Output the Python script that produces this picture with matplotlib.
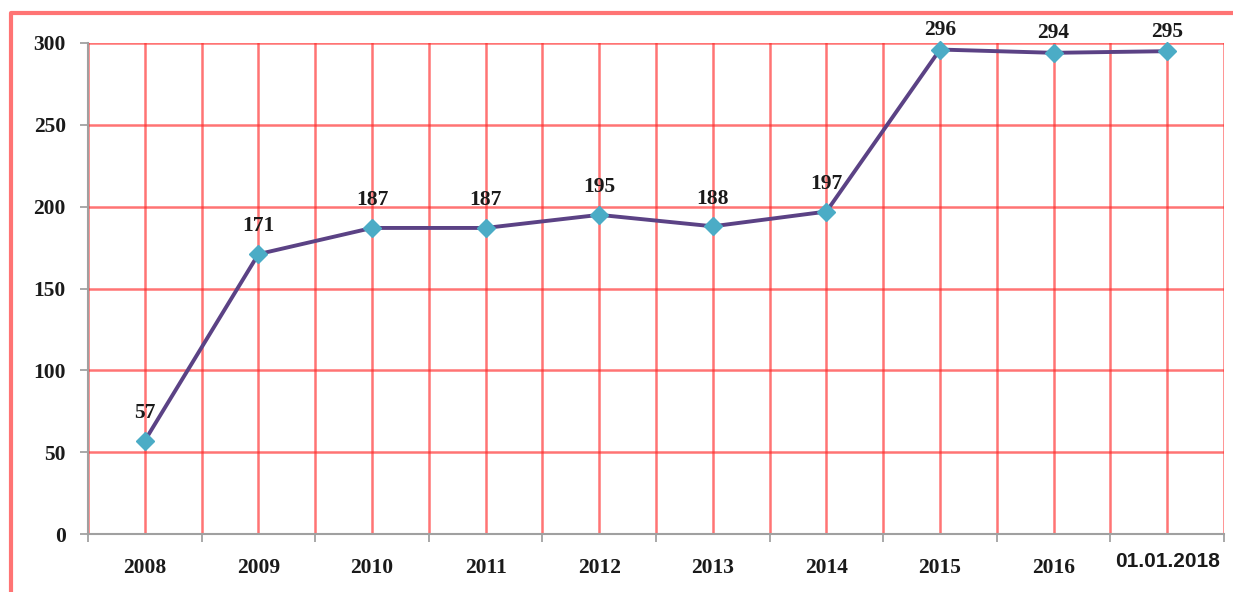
import matplotlib
matplotlib.use("Agg")
import matplotlib.pyplot as plt
from matplotlib.lines import Line2D
import numpy as np

# данные
years = ["2008", "2009", "2010", "2011", "2012", "2013", "2014", "2015", "2016", "01.01.2018"]
values = [57, 171, 187, 187, 195, 188, 197, 296, 294, 295]
yticks = [0, 50, 100, 150, 200, 250, 300]

plt.rcParams['font.family'] = ['Liberation Serif', 'DejaVu Serif']

fig = plt.figure(figsize=(12.33, 5.92), dpi=100)
ax = fig.add_axes([88/1233, 1 - 534/592, (1224 - 88)/1233, (534 - 43)/592])

x = np.arange(len(years))
ax.plot(x, values, color='#5B4285', linewidth=2.8, marker='D', markersize=9,
        markerfacecolor='#4BACC6', markeredgecolor='#4BACC6', zorder=5, clip_on=False)

for xi, v in zip(x, values):
    off = 14 if v > 290 else 20
    ax.annotate(str(v), (xi, v), xytext=(0, off), textcoords='offset points',
                ha='center', va='center', fontsize=15.5, fontweight='bold', color='#1a1a1a')

ax.set_xlim(-0.5, len(years) - 0.5)
ax.set_ylim(0, 300)
ax.set_yticks(yticks)
ax.set_yticklabels([str(t) for t in yticks], fontsize=15.5, fontweight='bold', color='#1a1a1a')

# границы категорий - основные деления, центры - подписи
ax.set_xticks(np.arange(len(years) + 1) - 0.5)
ax.set_xticklabels([])
ax.set_xticks(x, minor=True)
ax.set_xticklabels(years, minor=True, fontsize=15.5, fontweight='bold', color='#1a1a1a')
ax.tick_params(axis='x', which='minor', length=0, pad=17)
ax.tick_params(axis='x', which='major', length=6, color='#999999', width=1.2)
ax.tick_params(axis='y', length=6, color='#999999', width=1.2, pad=10)

last = ax.get_xticklabels(minor=True)[-1]
last.set_family(['Liberation Sans', 'DejaVu Sans'])
last.set_fontsize(15)
last.set_y(0.012)

ax.grid(True, which='both', axis='x', color='#FF2a2a', alpha=0.65, linewidth=1.8)
ax.grid(True, which='major', axis='y', color='#FF2a2a', alpha=0.65, linewidth=1.8)
ax.set_axisbelow(True)

for s in ['top', 'right']:
    ax.spines[s].set_visible(False)
for s in ['left', 'bottom']:
    ax.spines[s].set_color('#A0A0A0')
    ax.spines[s].set_linewidth(1.5)

# рамка
bx = 11 / 1233
by = 1 - 13 / 592
fig.add_artist(Line2D([bx, bx, 1.0], [0, by, by], transform=fig.transFigure,
                      color='#FF2a2a', alpha=0.65, linewidth=3))

fig.savefig("out.png", dpi=100)
